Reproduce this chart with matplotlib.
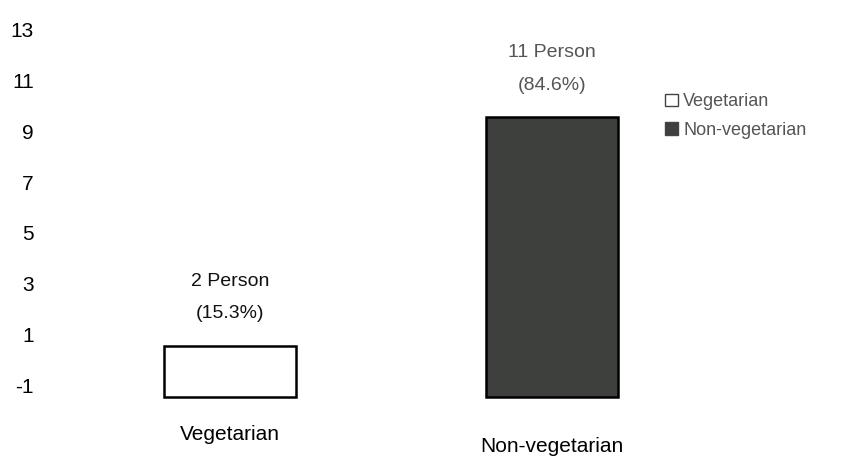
import matplotlib.pyplot as plt
from matplotlib.patches import Patch
from matplotlib.transforms import ScaledTranslation

plt.rcParams['font.family'] = ['Liberation Sans', 'DejaVu Sans']
plt.rcParams['axes.unicode_minus'] = False

categories = ['Vegetarian', 'Non-vegetarian']
persons = [2, 11]
percents = ['15.3%', '84.6%']
bar_colors = ['white', '#3d403d']
yticks = [-1, 1, 3, 5, 7, 9, 11, 13]

base = -1.45

fig = plt.figure(figsize=(8.54, 4.61), dpi=100)
ax = fig.add_axes([45 / 854, 0.126, 605 / 854, 0.826])

x = list(range(len(categories)))
bars = ax.bar(x, persons, bottom=base, width=0.41, color=bar_colors,
              edgecolor='black', linewidth=1.8, clip_on=False)

text_colors = ['#111111', '#555555']
for b, n, p, c in zip(bars, persons, percents, text_colors):
    ax.annotate(f'{n} Person\n({p})', (b.get_x() + b.get_width() / 2, b.get_y() + b.get_height()),
                xytext=(0, 17), textcoords='offset points', ha='center', va='bottom',
                fontsize=14, color=c, linespacing=2.2)

ax.set_xlim(-0.575, 1.304)
ax.set_ylim(-1.7, 13.3)
ax.set_yticks(yticks)
ax.set_xticks(x)
ax.set_xticklabels(categories, fontsize=15)
ax.tick_params(axis='y', length=0, pad=8, labelsize=15)
ax.tick_params(axis='x', length=0, pad=16)
for s in ax.spines.values():
    s.set_visible(False)

# second label sits a little lower in the reference
lab = ax.get_xticklabels()[1]
lab.set_transform(lab.get_transform() + ScaledTranslation(0, -12 / 100, fig.dpi_scale_trans))

handles = [Patch(facecolor=c, edgecolor='#444444', linewidth=1) for c in bar_colors]
leg = fig.legend(handles, categories, loc='upper left', bbox_to_anchor=(649 / 854, 1 - 77 / 461),
                 frameon=False, fontsize=13, handlelength=0.7, handleheight=0.7,
                 handletextpad=0.3, labelspacing=0.65, labelcolor='#555555')

fig.savefig('out.png', dpi=100)
